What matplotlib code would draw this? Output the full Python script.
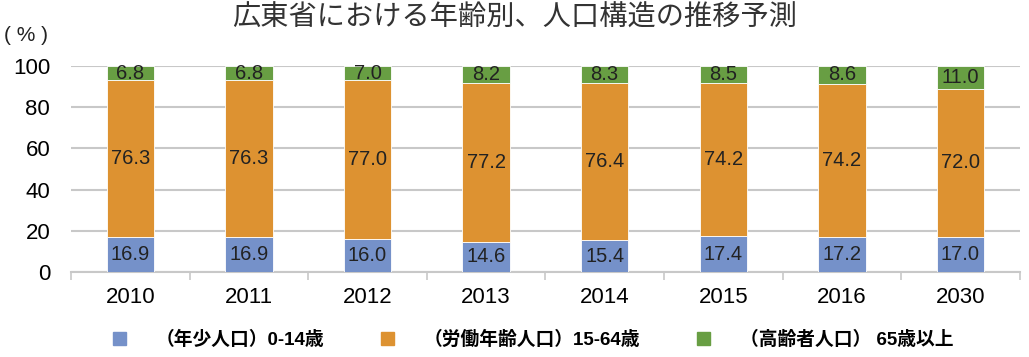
import numpy as np
import matplotlib.pyplot as plt
from matplotlib.patches import Patch

plt.rcParams['font.family'] = ['Noto Sans CJK JP', 'DejaVu Sans']

years = ['2010', '2011', '2012', '2013', '2014', '2015', '2016', '2030']
young = [16.9, 16.9, 16.0, 14.6, 15.4, 17.4, 17.2, 17.0]
working = [76.3, 76.3, 77.0, 77.2, 76.4, 74.2, 74.2, 72.0]
elderly = [6.8, 6.8, 7.0, 8.2, 8.3, 8.5, 8.6, 11.0]
names = ['（年少人口）0-14歳', '（労働年齢人口）15-64歳', '（高齢者人口） 65歳以上']
colors = ['#7591c9', '#dd9231', '#689e43']
num_font = ['Liberation Sans', 'Noto Sans CJK JP']

fig = plt.figure(figsize=(10.29, 3.57), dpi=100)
ax = fig.add_axes([0.069, 0.238, 0.922, 0.577])

x = np.arange(len(years))
bottom = np.zeros(len(years))
for vals, c in zip([young, working, elderly], colors):
    vals = np.array(vals)
    ax.bar(x, vals, 0.4, bottom=bottom, color=c, edgecolor='white', linewidth=0.6, zorder=3)
    for xi, b, v in zip(x, bottom, vals):
        ax.text(xi, b + v / 2, f'{v:.1f}', ha='center', va='center', fontsize=14.5,
                color='#222222', family=num_font, zorder=4)
    bottom += vals

ax.set_xlim(-0.5, len(years) - 0.5)
ax.set_ylim(0, 100)
ax.set_yticks(range(0, 101, 20))
ax.yaxis.grid(True, color='#c8c8c8', linewidth=1.5, zorder=0)
ax.set_xticks(x)
ax.set_xticklabels(years)
ax.set_xticks(np.arange(-0.5, len(years)), minor=True)
ax.tick_params(axis='x', which='major', length=0, pad=11)
ax.tick_params(axis='x', which='minor', length=6, color='#c8c8c8', width=1.2)
ax.tick_params(axis='y', length=0, pad=15)
for lab in ax.get_xticklabels() + ax.get_yticklabels():
    lab.set_fontsize(16)
    lab.set_family(num_font)
for s in ['top', 'right', 'left']:
    ax.spines[s].set_visible(False)
ax.spines['bottom'].set_color('#c8c8c8')
ax.spines['bottom'].set_linewidth(1.5)

fig.text(0.5, 0.95, '広東省における年齢別、人口構造の推移予測', ha='center', va='center',
         fontsize=20.3, color='#333333')
fig.text(0.004, 0.9, '( % )', ha='left', va='center', fontsize=15,
         color='#222222', family=num_font)

handles = [Patch(color=c) for c in colors]
fig.legend(handles, names, loc='center', bbox_to_anchor=(0.518, 0.048), ncol=3,
           frameon=False, handlelength=0.7, handleheight=0.7,
           columnspacing=3.0, handletextpad=1.6,
           prop={'weight': 'bold', 'size': 13.5, 'family': num_font})

fig.savefig('out.png', dpi=100)
